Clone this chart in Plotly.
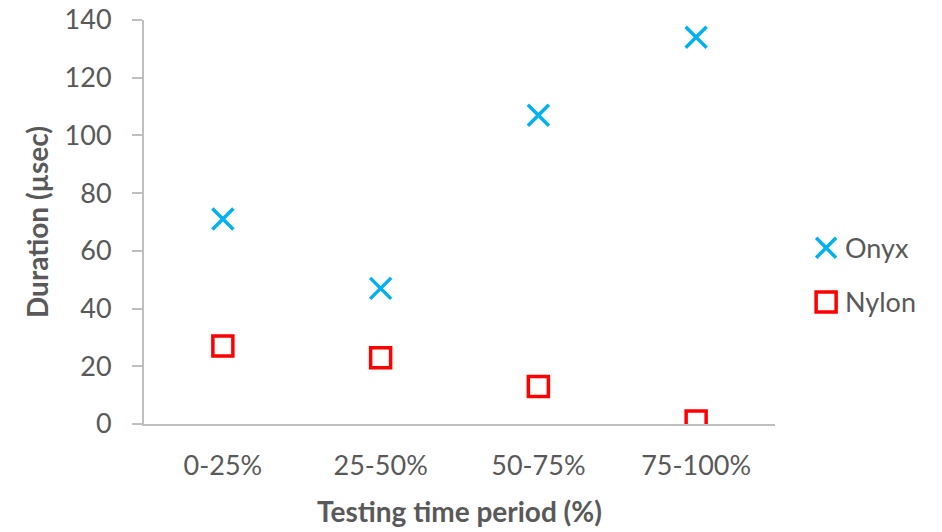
import plotly.graph_objects as go

# Testing period categories and measured durations (µsec)
periods = ["0-25%", "25-50%", "50-75%", "75-100%"]
onyx = [71, 47, 107, 134]
nylon = [27, 23, 13, 1]

series_names = ["Onyx", "Nylon"]
ONYX_COLOR = "#00B0F0"
NYLON_COLOR = "#FF0000"

GRAY_TEXT = "#595959"
AXIS_LINE = "#BFBFBF"
FONT = "Lato, Calibri, sans-serif"

fig = go.Figure()
fig.add_trace(go.Scatter(
    x=periods, y=onyx, name=series_names[0], mode="markers",
    marker=dict(symbol="x-thin", size=21, color=ONYX_COLOR,
                line=dict(color=ONYX_COLOR, width=3.5)),
))
fig.add_trace(go.Scatter(
    x=periods, y=nylon, name=series_names[1], mode="markers",
    marker=dict(symbol="square-open", size=20, color=NYLON_COLOR,
                line=dict(color=NYLON_COLOR, width=3.5)),
))

# Legend drawn to the right of the plot with full-size symbols
leg_x = 1.081          # symbol centre, paper units
leg_text_x = 1.108     # text left edge, paper units
leg_rows = [0.436, 0.302]
half = 10

shapes = []
# Onyx: an "x"
for sign in (1, -1):
    shapes.append(dict(
        type="line", xref="paper", yref="paper",
        xsizemode="pixel", ysizemode="pixel",
        xanchor=leg_x, yanchor=leg_rows[0],
        x0=-half, x1=half, y0=-half * sign, y1=half * sign,
        line=dict(color=ONYX_COLOR, width=3.5),
    ))
# Nylon: an open square
shapes.append(dict(
    type="rect", xref="paper", yref="paper",
    xsizemode="pixel", ysizemode="pixel",
    xanchor=leg_x, yanchor=leg_rows[1],
    x0=-half, x1=half, y0=-half, y1=half,
    line=dict(color=NYLON_COLOR, width=3.5), fillcolor="rgba(0,0,0,0)",
))

annotations = [
    dict(text=name, x=leg_text_x, y=row, xref="paper", yref="paper",
         xanchor="left", yanchor="middle", showarrow=False,
         font=dict(size=27, color=GRAY_TEXT, family=FONT))
    for name, row in zip(series_names, leg_rows)
]

fig.update_layout(
    width=942, height=532,
    margin=dict(l=144, r=167, t=20, b=108),
    paper_bgcolor="white", plot_bgcolor="white",
    font=dict(family=FONT, size=27, color=GRAY_TEXT),
    showlegend=False,
    shapes=shapes,
    annotations=annotations,
    xaxis=dict(
        type="category", range=[-0.5, 3.5], automargin=False,
        showline=True, linecolor=AXIS_LINE, linewidth=2,
        showgrid=False, zeroline=False, ticks="",
        ticklabelstandoff=17,
        tickfont=dict(size=27, color=GRAY_TEXT),
        title=dict(text="<b>Testing time period (%)</b>", standoff=22,
                   font=dict(size=28, color=GRAY_TEXT)),
    ),
    yaxis=dict(
        range=[0, 140], dtick=20, tick0=0, automargin=False,
        showline=True, linecolor=AXIS_LINE, linewidth=2,
        showgrid=False, zeroline=False,
        ticks="outside", ticklen=10, tickwidth=2, tickcolor=AXIS_LINE,
        ticklabelstandoff=15,
        tickfont=dict(size=27, color=GRAY_TEXT),
        title=dict(text="<b>Duration (µsec)</b>", standoff=8,
                   font=dict(size=28, color=GRAY_TEXT)),
    ),
)

fig.write_html("out.html")
